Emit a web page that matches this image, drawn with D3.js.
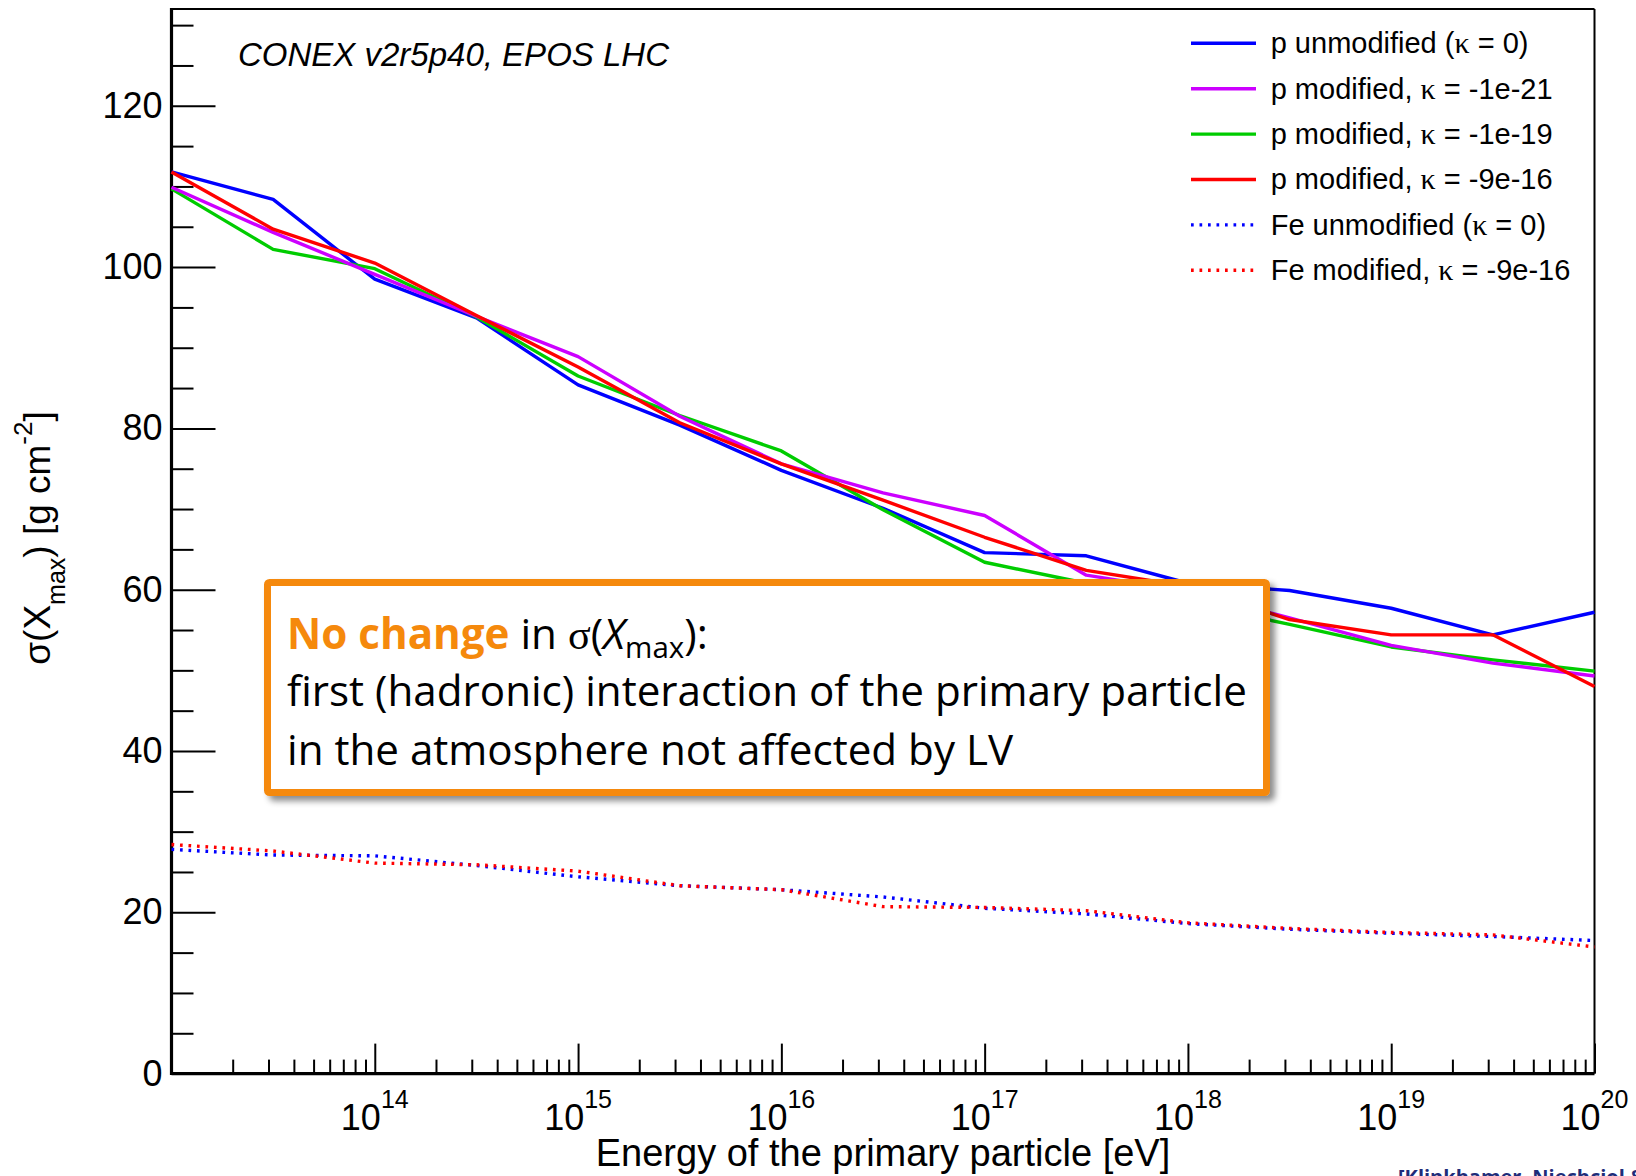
<!DOCTYPE html>
<html>
<head>
<meta charset="utf-8">
<script src="https://cdn.jsdelivr.net/npm/d3@7"></script>
<style>
  html, body { margin: 0; padding: 0; background: #fff; overflow: hidden; }
  svg { display: block; }
</style>
</head>
<body>
<div id="chart"></div>
<script>
// ── Data ────────────────────────────────────────────────────────────────────
const energyExp = [13, 13.5, 14, 14.5, 15, 15.5, 16, 16.5, 17, 17.5, 18, 18.5, 19, 19.5, 20];

const pUnmod = [111.8, 108.4, 98.5, 93.7, 85.4, 80.4, 74.8, 70.1, 64.6, 64.2, 60.8, 59.9, 57.7, 54.4, 57.2];
const pMod21 = [109.9, 104.3, 99.1, 93.9, 88.9, 81.5, 75.6, 72.0, 69.2, 61.8, 59.8, 56.5, 53.1, 50.9, 49.3];
const pMod19 = [109.7, 102.2, 99.8, 93.8, 86.5, 81.6, 77.2, 69.9, 63.4, 60.8, 58.4, 55.7, 52.9, 51.3, 49.9];
const pMod16 = [111.8, 104.7, 100.5, 94.0, 87.6, 80.7, 75.6, 71.1, 66.5, 62.4, 60.4, 56.3, 54.4, 54.4, 48.0];
const feUnmod = [27.8, 27.1, 27.0, 25.8, 24.4, 23.3, 22.8, 21.9, 20.5, 19.8, 18.6, 17.9, 17.4, 17.0, 16.5];
const feMod16 = [28.4, 27.6, 26.1, 25.9, 25.1, 23.3, 22.8, 20.7, 20.6, 20.2, 18.7, 18.0, 17.5, 17.2, 15.7];

const legendLabels = [
  "p unmodified (κ = 0)",
  "p modified, κ = -1e-21",
  "p modified, κ = -1e-19",
  "p modified, κ = -9e-16",
  "Fe unmodified (κ = 0)",
  "Fe modified, κ = -9e-16",
];

const yMajorTicks = [0, 20, 40, 60, 80, 100, 120];
const xLabelExps = [14, 15, 16, 17, 18, 19, 20];

// ── Layout ─────────────────────────────────────────────────────────────────
const W = 1636, H = 1176;
const M = { left: 171.5, right: 1594.5, top: 9, bottom: 1073.6 };
const SANS = "'Liberation Sans', Arial, Helvetica, sans-serif";
const SERIF = "'Liberation Serif', 'Times New Roman', serif";
const ORANGE = "#f5890c";
const LW = 3.4;

const x = d3.scaleLog().domain([1e13, 1e20]).range([M.left, M.right]);
const y = d3.scaleLinear().domain([0, 132]).range([M.bottom, M.top]);

const svg = d3.select("#chart").append("svg")
  .attr("width", W).attr("height", H)
  .style("font-family", SANS);

// series table, drawn in this order (legend order differs)
const series = [
  { key: "pUnmod", values: pUnmod, color: "#0000ff", dotted: false, legend: 0 },
  { key: "pMod19", values: pMod19, color: "#00cc00", dotted: false, legend: 2 },
  { key: "pMod21", values: pMod21, color: "#cc00ff", dotted: false, legend: 1 },
  { key: "pMod16", values: pMod16, color: "#ff0000", dotted: false, legend: 3 },
  { key: "feUnmod", values: feUnmod, color: "#0000ff", dotted: true, legend: 4 },
  { key: "feMod16", values: feMod16, color: "#ff0000", dotted: true, legend: 5 },
];
const DOTS = "2.7,5.8";

const line = d3.line()
  .x((d, i) => x(Math.pow(10, energyExp[i])))
  .y((d) => y(d));

// ── Axes ───────────────────────────────────────────────────────────────────
const yMinorTicks = d3.range(5, 131, 5).filter((v) => v % 20 !== 0);
const xMinorTicks = [];
for (let e = 13; e < 20; e++) for (let k = 2; k <= 9; k++) xMinorTicks.push(k * Math.pow(10, e));
const xMajorTicks = xLabelExps.map((e) => Math.pow(10, e));

function styleTicks(g) {
  g.select(".domain").remove();
  g.selectAll(".tick line").attr("stroke", "#000").attr("stroke-width", 2);
}

svg.append("g")
  .attr("transform", `translate(${M.left},0)`)
  .call(d3.axisLeft(y).tickValues(yMinorTicks).tickSize(-22).tickFormat(""))
  .call(styleTicks);

svg.append("g")
  .attr("transform", `translate(${M.left},0)`)
  .call(d3.axisLeft(y).tickValues(yMajorTicks).tickSize(-44).tickPadding(9))
  .call(styleTicks)
  .call((g) => g.selectAll(".tick text")
    .attr("fill", "#000").style("font-size", "36px").style("font-family", SANS));

svg.append("g")
  .attr("transform", `translate(0,${M.bottom})`)
  .call(d3.axisBottom(x).tickValues(xMinorTicks).tickSize(-14).tickFormat(""))
  .call(styleTicks);

svg.append("g")
  .attr("transform", `translate(0,${M.bottom})`)
  .call(d3.axisBottom(x).tickValues(xMajorTicks).tickSize(-30).tickFormat(""))
  .call(styleTicks);

// x tick labels 10^n
const xl = svg.append("g").selectAll("text").data(xLabelExps).join("text")
  .attr("x", (e) => x(Math.pow(10, e)))
  .attr("y", M.bottom + 56)
  .attr("text-anchor", "middle")
  .attr("fill", "#000");
xl.append("tspan").style("font-size", "36px").text("10");
xl.append("tspan").style("font-size", "25px").attr("dy", -22).text((e) => e);

// frame
const frame = svg.append("g").attr("stroke", "#000").attr("fill", "none");
frame.append("line").attr("x1", M.left).attr("x2", M.right).attr("y1", M.top).attr("y2", M.top).attr("stroke-width", 2);
frame.append("line").attr("x1", M.right).attr("x2", M.right).attr("y1", M.top).attr("y2", M.bottom).attr("stroke-width", 2);
frame.append("line").attr("x1", M.left).attr("x2", M.left).attr("y1", M.top - 1).attr("y2", M.bottom + 1.5).attr("stroke-width", 3.2);
frame.append("line").attr("x1", M.left).attr("x2", M.right).attr("y1", M.bottom).attr("y2", M.bottom).attr("stroke-width", 3.2);

// axis titles
svg.append("text")
  .attr("x", (M.left + M.right) / 2)
  .attr("y", 1166)
  .attr("text-anchor", "middle")
  .style("font-size", "38px")
  .text("Energy of the primary particle [eV]");

const yt = svg.append("text")
  .attr("transform", "translate(50,538) rotate(-90)")
  .attr("text-anchor", "middle")
  .style("font-size", "37px");
yt.append("tspan").text("σ(X");
yt.append("tspan").attr("dy", 15).style("font-size", "25px").text("max");
yt.append("tspan").attr("dy", -15).text(") [g cm");
yt.append("tspan").attr("dy", -18).style("font-size", "26px").text("-2");
yt.append("tspan").attr("dy", 18).text("]");

// ── Lines ──────────────────────────────────────────────────────────────────
svg.append("g").selectAll("path").data(series).join("path")
  .attr("d", (s) => line(s.values))
  .attr("fill", "none")
  .attr("stroke", (s) => s.color)
  .attr("stroke-width", LW)
  .attr("stroke-linejoin", "round")
  .attr("stroke-dasharray", (s) => (s.dotted ? DOTS : null));

// ── Annotation ─────────────────────────────────────────────────────────────
svg.append("text")
  .attr("x", 238)
  .attr("y", 66)
  .style("font-size", "33px")
  .style("font-style", "italic")
  .text("CONEX v2r5p40, EPOS LHC");

// ── Legend ─────────────────────────────────────────────────────────────────
const legendSeries = series.slice().sort((a, b) => a.legend - b.legend);
const lg = svg.append("g").selectAll("g").data(legendSeries).join("g")
  .attr("transform", (s, i) => `translate(0,${43.3 + i * 45.4})`);
lg.append("line")
  .attr("x1", 1191).attr("x2", 1256)
  .attr("stroke", (s) => s.color)
  .attr("stroke-width", LW)
  .attr("stroke-dasharray", (s) => (s.dotted ? DOTS : null));
const lt = lg.append("text")
  .attr("x", 1270.7)
  .attr("y", 9.8)
  .style("font-size", "29px");
lt.each(function (s) {
  const parts = legendLabels[s.legend].split("κ");
  const t = d3.select(this);
  t.append("tspan").text(parts[0]);
  t.append("tspan").style("font-family", SERIF).style("font-size", "30px").text("κ");
  t.append("tspan").text(parts[1]);
});

// ── Orange box ─────────────────────────────────────────────────────────────
const defs = svg.append("defs");
const f = defs.append("filter").attr("id", "shadow")
  .attr("x", "-5%").attr("y", "-10%").attr("width", "115%").attr("height", "130%");
f.append("feDropShadow")
  .attr("dx", 5).attr("dy", 5).attr("stdDeviation", 3)
  .attr("flood-color", "#000").attr("flood-opacity", 0.45);

const box = svg.append("g");
box.append("rect")
  .attr("x", 267.5).attr("y", 582.5)
  .attr("width", 999).attr("height", 210)
  .attr("rx", 2)
  .attr("fill", "#fff")
  .attr("stroke", ORANGE)
  .attr("stroke-width", 7)
  .attr("filter", "url(#shadow)");

const bt = box.append("g").style("font-family", "'Open Sans', 'Noto Sans', sans-serif").style("font-size", "40px");
const l1 = bt.append("text").attr("x", 287).attr("y", 649);
l1.append("tspan").attr("fill", ORANGE).style("font-weight", "700").text("No change");
l1.append("tspan").text(" in ");
l1.append("tspan").style("font-family", SERIF).text("σ");
l1.append("tspan").text("(");
l1.append("tspan").style("font-style", "italic").text("X");
l1.append("tspan").attr("dy", 9).style("font-size", "0.7em").text("max");
l1.append("tspan").attr("dy", -9).text("):");
const l2 = bt.append("text").attr("x", 287).attr("y", 706)
  .text("first (hadronic) interaction of the primary particle");
bt.append("text").attr("x", 287).attr("y", 765)
  .text("in the atmosphere not affected by LV");

// fit the box text to the width it has in the picture
const w2 = l2.node().getComputedTextLength();
if (w2 > 0) bt.style("font-size", (40 * 960 / w2).toFixed(2) + "px");

// ── Credit (cut at bottom edge) ────────────────────────────────────────────
svg.append("text")
  .attr("x", 1398)
  .attr("y", 1184)
  .style("font-family", "'Open Sans', 'Noto Sans', sans-serif")
  .style("font-size", "20px")
  .style("font-weight", "700")
  .attr("fill", "#1f2d7a")
  .text("[Klinkhamer, Niechciol & Risse, 2017]");
</script>
</body>
</html>
